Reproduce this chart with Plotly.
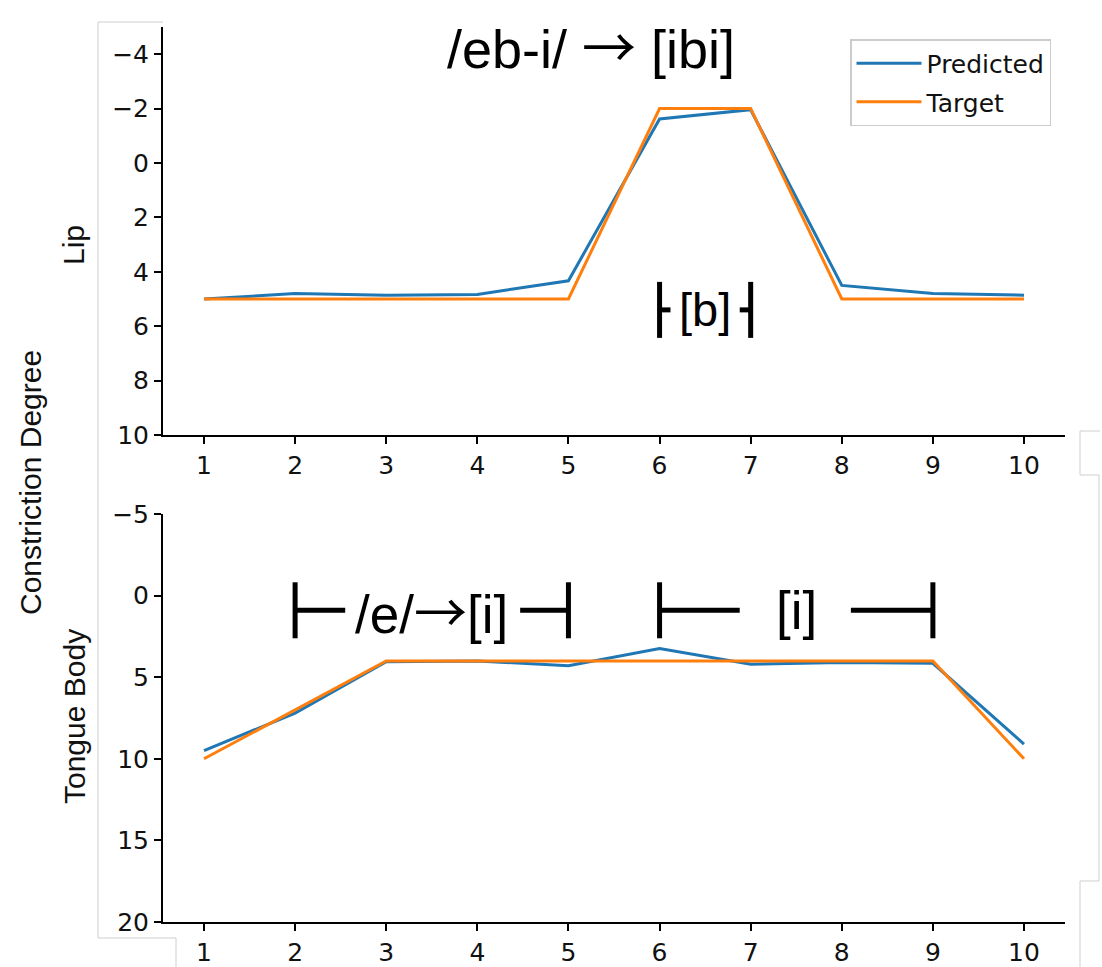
import plotly.graph_objects as go

# ---------------- data ----------------
steps = [1, 2, 3, 4, 5, 6, 7, 8, 9, 10]
lip_pred = [5.0, 4.8, 4.86, 4.83, 4.33, -1.62, -1.96, 4.5, 4.8, 4.86]
lip_target = [5, 5, 5, 5, 5, -2, -2, 5, 5, 5]
tb_pred = [9.5, 7.2, 4.05, 4.0, 4.3, 3.25, 4.2, 4.1, 4.15, 9.1]
tb_target = [10, 7, 4, 4, 4, 4, 4, 4, 4, 10]

lip_ticks = [-4, -2, 0, 2, 4, 6, 8, 10]
tb_ticks = [-5, 0, 5, 10, 15, 20]

ARROW = "<span style='font-family:Noto Sans CJK SC'>→</span>"
title_text = "/eb-i/ " + ARROW + " [ibi]"
# spans: (start, end, label, y-level, left stub length, right stub length)
lip_spans = [(6, 7, "[b]", 5.4, 0.12, 0.12)]
tb_spans = [(2, 5, "/e/" + ARROW + "[i]", 0.9, 0.55, 0.53), (6, 9, "[i]", 0.9, 0.88, 0.9)]

BLUE = "#1f77b4"
ORANGE = "#ff7f0e"
TICKFONT = dict(family="DejaVu Sans", size=25, color="#111")
LABELFONT = dict(family="Liberation Sans", size=30, color="#111")

W, H = 1102, 967
L, R, T, B = 163, 37, 27, 45
BOT_AXIS = H - B   # pixel row of the lower x axis

fig = go.Figure()
fig.add_trace(go.Scatter(x=steps, y=lip_pred, mode="lines", name="Predicted",
                         line=dict(color=BLUE, width=3), xaxis="x", yaxis="y",
                         legendgroup="p"))
fig.add_trace(go.Scatter(x=steps, y=lip_target, mode="lines", name="Target",
                         line=dict(color=ORANGE, width=3), xaxis="x", yaxis="y",
                         legendgroup="t"))
fig.add_trace(go.Scatter(x=steps, y=tb_pred, mode="lines", name="Predicted",
                         line=dict(color=BLUE, width=3), xaxis="x2", yaxis="y2",
                         showlegend=False, legendgroup="p"))
fig.add_trace(go.Scatter(x=steps, y=tb_target, mode="lines", name="Target",
                         line=dict(color=ORANGE, width=3), xaxis="x2", yaxis="y2",
                         showlegend=False, legendgroup="t"))

plot_h = H - T - B
def py(pix):
    return (H - B - pix) / plot_h

def px(pix):
    return (pix - L) / (W - L - R)

top_dom = [py(435), 1.0]
bot_dom = [0.0, py(514)]

xcommon = dict(range=[0.55, 10.45], tickvals=steps, showline=True, linecolor="black",
               linewidth=2, ticks="outside", ticklen=7, tickwidth=1.5, tickcolor="black",
               showgrid=False, zeroline=False, tickfont=TICKFONT, automargin=False)
ycommon = dict(showline=True, linecolor="black", linewidth=2, ticks="outside", ticklen=7,
               tickwidth=1.5, tickcolor="black", showgrid=False, zeroline=False,
               tickfont=TICKFONT, automargin=False)

fig.update_layout(
    width=W, height=H,
    margin=dict(l=L, r=R, t=T, b=B, autoexpand=False),
    paper_bgcolor="white", plot_bgcolor="white",
    xaxis=dict(**xcommon, anchor="y", domain=[0, 1]),
    yaxis=dict(**ycommon, anchor="x", domain=top_dom, range=[10, -5], tickvals=lip_ticks),
    xaxis2=dict(**xcommon, anchor="y2", domain=[0, 1]),
    yaxis2=dict(**ycommon, anchor="x2", domain=bot_dom, range=[20, -5], tickvals=tb_ticks),
    legend=dict(x=px(1051), y=py(39), xanchor="right", yanchor="top",
                bgcolor="white", bordercolor="#cccccc", borderwidth=1.5,
                font=dict(family="DejaVu Sans", size=25, color="#111"),
                itemwidth=65, tracegroupgap=3, traceorder="grouped"),
    showlegend=True,
)

annotations = []
shapes = []

# title
annotations.append(dict(text=title_text, x=px(591), y=py(45), xref="paper", yref="paper",
                        showarrow=False, xanchor="center", yanchor="middle",
                        font=dict(family="Liberation Sans", size=54, color="black")))
# axis labels
annotations.append(dict(text="Lip", x=px(74), y=py(245), xref="paper", yref="paper",
                        showarrow=False, textangle=-90, xanchor="center", yanchor="middle",
                        font=LABELFONT))
annotations.append(dict(text="Tongue Body", x=px(74), y=py(717), xref="paper", yref="paper",
                        showarrow=False, textangle=-90, xanchor="center", yanchor="middle",
                        font=LABELFONT))
annotations.append(dict(text="Constriction Degree", x=px(30), y=py(483), xref="paper",
                        yref="paper", showarrow=False, textangle=-90, xanchor="center",
                        yanchor="middle", font=LABELFONT))

def add_spans(spans, xr, yr, fsize):
    for (s, e, lab, yl, ls, rs) in spans:
        for xv in (s, e):
            shapes.append(dict(type="line", xref=xr, yref=yr, x0=xv, x1=xv,
                               ysizemode="pixel", yanchor=yl, y0=-28, y1=28,
                               line=dict(color="black", width=5)))
        shapes.append(dict(type="line", xref=xr, yref=yr, x0=s, x1=s + ls, y0=yl, y1=yl,
                           line=dict(color="black", width=5)))
        shapes.append(dict(type="line", xref=xr, yref=yr, x0=e - rs, x1=e, y0=yl, y1=yl,
                           line=dict(color="black", width=5)))
        annotations.append(dict(text=lab, x=(s + e) / 2, y=yl, xref=xr, yref=yr,
                                showarrow=False, xanchor="center", yanchor="middle",
                                font=dict(family="Liberation Sans", size=fsize, color="black")))

add_spans(lip_spans, "x", "y", 47)
add_spans(tb_spans, "x2", "y2", 53)

# faint grey frame fragments (from the composited source image)
GREY = dict(color="#cfcfcf", width=1)
def pl(x0, y0, x1, y1):
    shapes.append(dict(type="line", xref="paper", yref="paper", x0=px(x0), y0=py(y0),
                       x1=px(x1), y1=py(y1), line=GREY))
pl(98, 22, 98, 938)
pl(98, 22, 163, 22)
pl(98, 938, 176, 938)
pl(176, 938, 176, 967)
pl(1080, 431, 1100, 431)
pl(1080, 431, 1080, 475)
pl(1080, 475, 1099, 475)
pl(1099, 475, 1099, 881)
pl(1080, 881, 1099, 881)
pl(1080, 881, 1080, 967)

fig.update_layout(annotations=annotations, shapes=shapes)
fig.write_html("out.html")
